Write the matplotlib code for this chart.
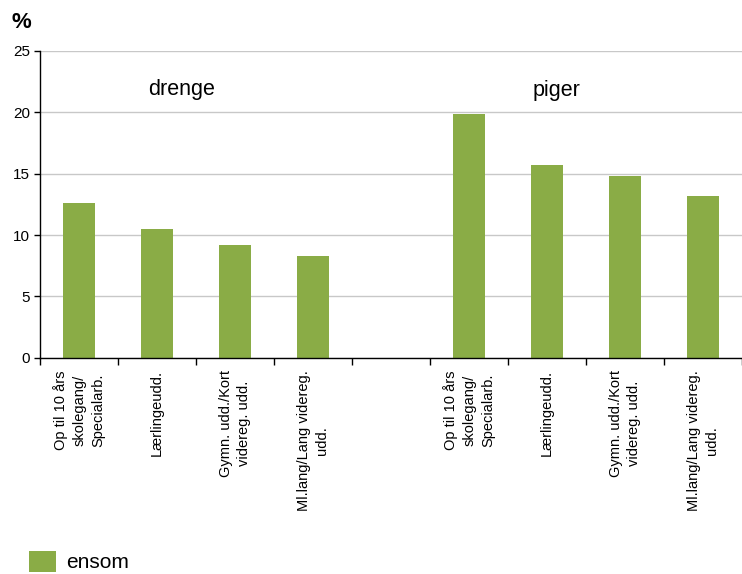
import matplotlib
matplotlib.use("Agg")
import matplotlib.pyplot as plt
import numpy as np

plt.rcParams['font.family'] = ['Liberation Sans', 'DejaVu Sans']

# data
categories = ["Op til 10 års\nskolegang/\nSpecialarb.", "Lærlingeudd.",
              "Gymn. udd./Kort\nvidereg. udd.", "Ml.lang/Lang videreg.\nudd."]
drenge = [12.6, 10.5, 9.2, 8.3]
piger = [19.9, 15.7, 14.8, 13.2]
group_labels = ["drenge", "piger"]
series_name = "ensom"
yticks = [0, 5, 10, 15, 20, 25]

color = '#8aac46'

labels = categories + [""] + categories
values = drenge + [np.nan] + piger
x = np.arange(len(labels))

fig = plt.figure(figsize=(7.42, 5.74), dpi=100)
ax = fig.add_axes([40/742, 1-357.7/574, 1-40/742, (357.7-51)/574])

ax.bar(x, values, width=0.4, color=color, label=series_name, zorder=3)

ax.set_xlim(-0.5, 8.43)
ax.set_ylim(0, 25)
ax.set_yticks(yticks)
ax.set_yticklabels([str(t) for t in yticks], fontsize=11)
ax.tick_params(axis='y', length=4, width=1, color='black', pad=3)

ax.set_xticks(x)
ax.set_xticklabels(labels, rotation=90, fontsize=10.5, ha='center', va='top',
                   multialignment='center', linespacing=1.45)
ax.set_xticks(np.arange(-0.5, 9.0, 1.0), minor=True)
ax.tick_params(axis='x', which='major', length=0, pad=9)
ax.tick_params(axis='x', which='minor', length=5, width=1, color='black')

ax.grid(axis='y', color='#c8c8c8', linewidth=1, zorder=0)
ax.set_axisbelow(True)
for s in ['top', 'right']:
    ax.spines[s].set_visible(False)
for s in ['left', 'bottom']:
    ax.spines[s].set_color('black')
    ax.spines[s].set_linewidth(1)
ax.spines['bottom'].set_zorder(4)

ax.text(1.32, 21.9, group_labels[0], fontsize=15.5, ha='center', va='center')
ax.text(6.12, 21.8, group_labels[1], fontsize=15.5, ha='center', va='center')

fig.text(12/742, 1-22/574, "%", fontsize=16, fontweight='bold', ha='left', va='center')

fig.legend(loc='upper left', bbox_to_anchor=(29/742, 1-551/574), frameon=False,
           fontsize=15, handlelength=1.3, handleheight=1.15, handletextpad=0.5,
           borderpad=0, borderaxespad=0)

fig.savefig("out.png", dpi=100)
